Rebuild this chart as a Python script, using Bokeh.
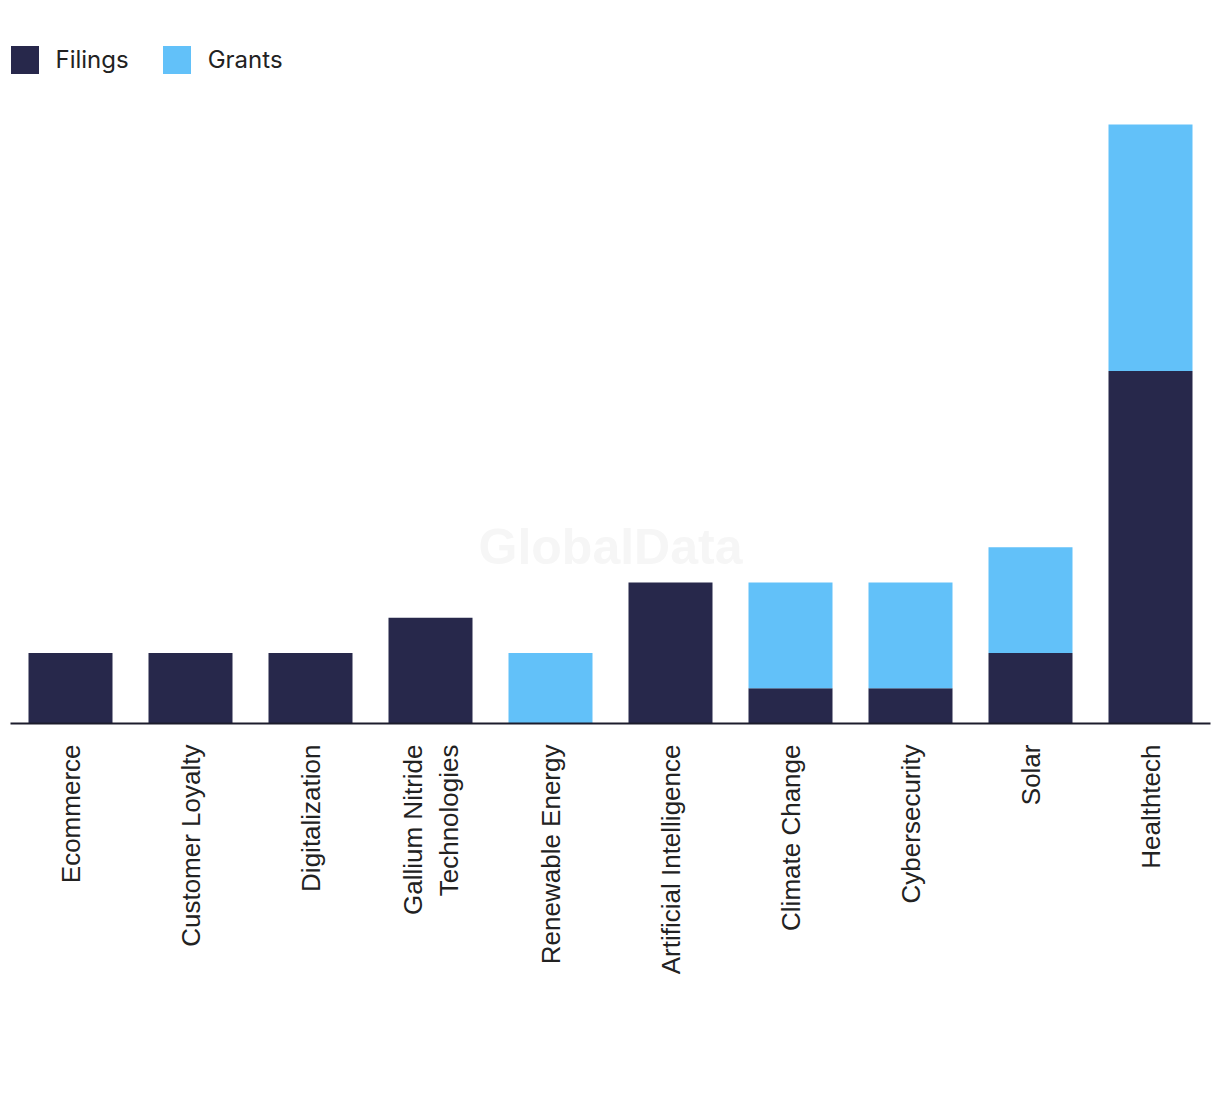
import math
from bokeh.plotting import figure
from bokeh.models import Range1d, FactorRange, Legend, LegendItem, Label
from bokeh.embed import file_html
from bokeh.resources import INLINE

categories = ["Ecommerce", "Customer Loyalty", "Digitalization", "Gallium Nitride\nTechnologies",
              "Renewable Energy", "Artificial Intelligence", "Climate Change", "Cybersecurity",
              "Solar", "Healthtech"]
filings = [2, 2, 2, 3, 0, 4, 1, 1, 2, 10]
grants = [0, 0, 0, 0, 2, 0, 3, 3, 3, 7]
series = ["Filings", "Grants"]
colors = ["#27284b", "#62c1f9"]

data = {"cat": categories, "Filings": filings, "Grants": grants}

p = figure(width=1212, height=1088, output_backend="svg", toolbar_location=None,
           x_range=FactorRange(*categories, range_padding=0), y_range=Range1d(0, 19.21),
           y_axis_location=None, min_border_left=10, min_border_right=2,
           min_border_top=46, min_border_bottom=365)
p.outline_line_color = None
p.xgrid.grid_line_color = None
p.ygrid.grid_line_color = None

wm = Label(x=5.0, y=5.0, text="GlobalData", text_font="Liberation Sans", text_font_style="bold",
           text_font_size="50px", text_color="#f6f6f6", text_align="center", text_baseline="middle",
           level="underlay")
p.add_layout(wm)

rs = p.vbar_stack(series, x="cat", width=0.7, source=data, color=colors, line_color=None)

ax = p.xaxis[0]
ax.axis_line_color = "#1c1c2c"
ax.axis_line_width = 2
ax.major_tick_line_color = None
ax.minor_tick_line_color = None
ax.major_tick_out = 0
ax.major_tick_in = 0
ax.major_label_standoff = 21
ax.major_label_orientation = math.pi / 2
ax.major_label_text_font = "Liberation Sans"
ax.major_label_text_font_size = "26px"
ax.major_label_text_color = "#222222"

legend = Legend(items=[LegendItem(label=s, renderers=[r]) for s, r in zip(series, rs)],
                location=(-3.5, 646.5), orientation="horizontal", margin=0, padding=0,
                glyph_width=35, glyph_height=35, label_standoff=14, spacing=30,
                label_text_font="Inter", label_text_font_size="24px", label_text_color="#222222",
                background_fill_alpha=0, border_line_color=None)
p.add_layout(legend)

open("out.html", "w").write(file_html(p, INLINE))
